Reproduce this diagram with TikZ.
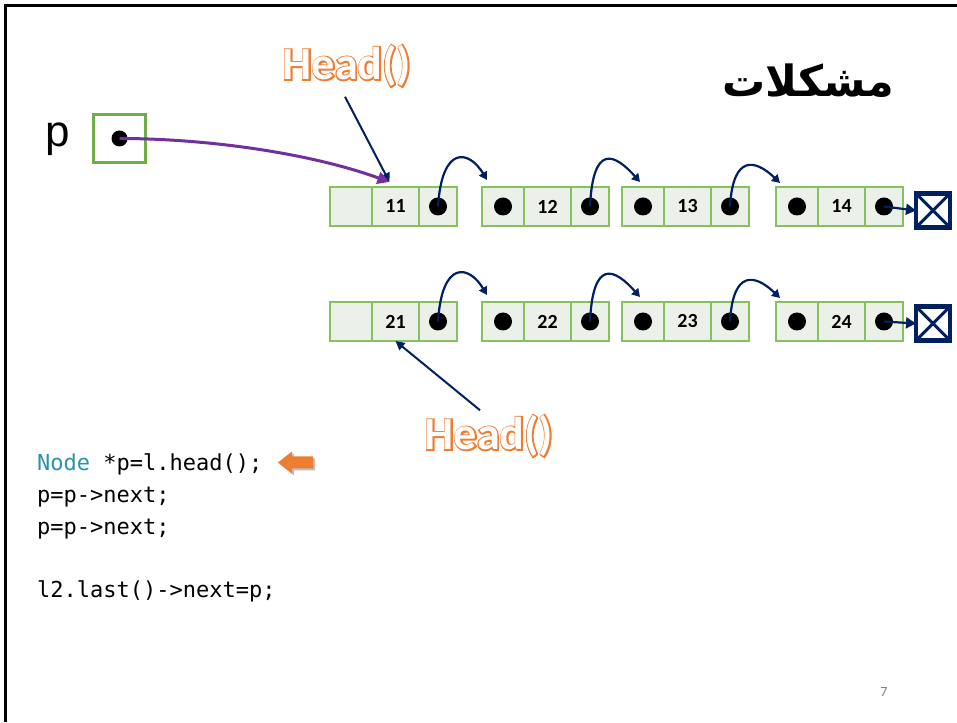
\documentclass[tikz,border=0pt]{standalone}
\usepackage{fontspec}
\usetikzlibrary{positioning,arrows.meta}
\setmainfont{Carlito}
\newfontfamily\armfont[Script=Arabic]{DejaVu Sans}
\newfontfamily\codefont{DejaVu Sans Mono}
\newfontfamily\pfont{Liberation Sans}
\newfontfamily\headthick[FakeBold=6]{Carlito}
\TeXXeTstate=1
\definecolor{navy}{RGB}{0,32,96}
\definecolor{cellfill}{RGB}{235,240,232}
\definecolor{celledge}{RGB}{135,192,95}
\definecolor{pgreen}{RGB}{112,173,71}
\definecolor{purp}{RGB}{112,48,160}
\definecolor{horange}{RGB}{237,125,49}
\definecolor{codeblue}{RGB}{43,145,175}

\begin{document}
\begin{tikzpicture}[
    x=1pt,y=1pt,
    cell/.style={draw=celledge, fill=cellfill, line width=1.5pt, minimum height=39pt,
      inner sep=0pt, outer sep=0pt, font=\bfseries\fontsize{20}{22}\selectfont},
    lcell/.style={minimum width=42pt},
    dcell/.style={minimum width=47pt},
    rcell/.style={minimum width=38pt},
    nextarr/.style={navy, line width=2.2pt, -{Triangle[length=8pt,width=9pt]}},
    headline/.style={navy, line width=2pt, -{Triangle[length=9pt,width=9pt]}},
    nullbox/.style={draw=navy, line width=4.5pt, minimum size=34pt, inner sep=0pt, outer sep=0pt},
    headrim/.style={font=\headthick\bfseries\fontsize{46}{50}\selectfont, text=horange, inner sep=1pt},
    headtxt/.style={font=\bfseries\fontsize{46}{50}\selectfont, text=white, inner sep=1pt},
    codeline/.style={anchor=base west, inner sep=0pt, font=\codefont\fontsize{22}{26}\selectfont}
    ]
    \useasboundingbox (0,0) rectangle (957,722);
    % slide frame
    \draw[line width=3pt] (4,716) -- (957,716);
    \draw[line width=3pt] (5,716) -- (5,0);
    \node (title) at (808,641) {\armfont\bfseries\fontsize{43}{46}\selectfont\beginR مشكلات\endR};
    \node (pnum) at (884,30) {\color{gray}\fontsize{14}{16}\selectfont 7};

    % pointer p
    \node[anchor=base west, inner sep=0pt] (plabel) at (45,575) {\pfont\fontsize{44}{48}\selectfont p};
    \node[draw=pgreen, line width=3.5pt, minimum width=52pt, minimum height=48pt] (pbox) at (119.5,583.5) {};
    \fill (pbox.center) circle (8);

    % first list
    \node[cell, lcell] (a1l) at (351,515.5) {};
    \node[cell, dcell, right=0pt of a1l] (a1d) {11};
    \node[cell, rcell, right=0pt of a1d] (a1r) {};
    \node[cell, lcell] (a2l) at (503,515.5) {};
    \node[cell, dcell, right=0pt of a2l] (a2d) {12};
    \node[cell, rcell, right=0pt of a2d] (a2r) {};
    \node[cell, lcell] (a3l) at (643,515.5) {};
    \node[cell, dcell, right=0pt of a3l] (a3d) {13};
    \node[cell, rcell, right=0pt of a3d] (a3r) {};
    \node[cell, lcell] (a4l) at (797,515.5) {};
    \node[cell, dcell, right=0pt of a4l] (a4d) {14};
    \node[cell, rcell, right=0pt of a4d] (a4r) {};
    \node[nullbox] (z1) at (933,511.5) {};
    \draw[navy, line width=3pt] (z1.north west) -- (z1.south east) (z1.north east) -- (z1.south west);

    % second list
    \node[cell, lcell] (b1l) at (351,400.5) {};
    \node[cell, dcell, right=0pt of b1l] (b1d) {21};
    \node[cell, rcell, right=0pt of b1d] (b1r) {};
    \node[cell, lcell] (b2l) at (503,400.5) {};
    \node[cell, dcell, right=0pt of b2l] (b2d) {22};
    \node[cell, rcell, right=0pt of b2d] (b2r) {};
    \node[cell, lcell] (b3l) at (643,400.5) {};
    \node[cell, dcell, right=0pt of b3l] (b3d) {23};
    \node[cell, rcell, right=0pt of b3d] (b3r) {};
    \node[cell, lcell] (b4l) at (797,400.5) {};
    \node[cell, dcell, right=0pt of b4l] (b4d) {24};
    \node[cell, rcell, right=0pt of b4d] (b4r) {};
    \node[nullbox] (z2) at (933,398.5) {};
    \draw[navy, line width=3pt] (z2.north west) -- (z2.south east) (z2.north east) -- (z2.south west);

    % dots
    \fill (a1r) circle (9);
    \fill (a2l) circle (9);
    \fill (a2r) circle (9);
    \fill (a3l) circle (9);
    \fill (a3r) circle (9);
    \fill (a4l) circle (9);
    \fill (a4r) circle (9);
    \fill (b1r) circle (9);
    \fill (b2l) circle (9);
    \fill (b2r) circle (9);
    \fill (b3l) circle (9);
    \fill (b3r) circle (9);
    \fill (b4l) circle (9);
    \fill (b4r) circle (9);

    % next links
    \draw[nextarr] (a1r.center) .. controls +(4,62) and +(-18,30) .. ([shift={(5,7)}]a2l.north west);
    \draw[nextarr] (a2r.center) .. controls +(3,64) and +(-25,28) .. ([shift={(18,5)}]a3l.north west);
    \draw[nextarr] (a3r.center) .. controls +(3,52) and +(-25,24) .. ([shift={(4,4)}]a4l.north west);
    \draw[nextarr, -{Triangle[length=10pt,width=11pt]}] (a4r.center) -- (z1.west);
    \draw[nextarr] (b1r.center) .. controls +(4,62) and +(-18,30) .. ([shift={(5,7)}]b2l.north west);
    \draw[nextarr] (b2r.center) .. controls +(3,64) and +(-25,28) .. ([shift={(18,5)}]b3l.north west);
    \draw[nextarr] (b3r.center) .. controls +(3,52) and +(-25,24) .. ([shift={(4,4)}]b4l.north west);
    \draw[nextarr, -{Triangle[length=10pt,width=11pt]}] (b4r.center) -- (z2.west);

    % head labels
    \node[headrim] (head1r) at (347,656) {Head()};
    \node[headtxt] (head1) at (347,656) {Head()};
    \node[headrim] (head2r) at (489,286) {Head()};
    \node[headtxt] (head2) at (489,286) {Head()};
    \draw[headline] ([shift={(-2,-9)}]head1.south) -- ([shift={(-6,5)}]a1d.north);
    \draw[headline] ([shift={(-9,4)}]head2.north) -- (b1d.south);
    \draw[purp, line width=3pt, -{Triangle[length=12pt,width=12pt]}] (pbox.center) to[out=0, in=160, looseness=0.8] ([shift={(-6,5)}]a1d.north);

    % code
    \node[codeline] (code1) at (37,251) {\textcolor{codeblue}{Node} *p=l.head();};
    \node[codeline] (code2) at (37,219) {p=p->next;};
    \node[codeline] (code3) at (37,187) {p=p->next;};
    \node[codeline] (code4) at (37,124) {l2.last()->next=p;};
    \fill[black!25] (280,257.5) -- (294,268.5) -- (294,263.5) -- (315,263.5) -- (315,251.5) -- (294,251.5) -- (294,246.5) -- cycle;
    \fill[horange] (278,259.5) -- (292,270.5) -- (292,265.5) -- (313,265.5) -- (313,253.5) -- (292,253.5) -- (292,248.5) -- cycle;
  \end{tikzpicture}
\end{document}
